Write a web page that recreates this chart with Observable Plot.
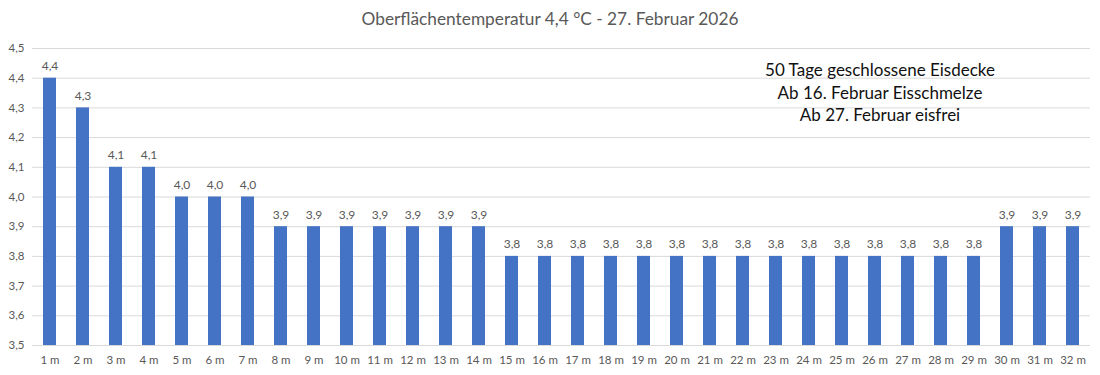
<!DOCTYPE html>
<html><head><meta charset="utf-8">
<script src="https://cdn.jsdelivr.net/npm/d3@7"></script>
<script src="https://cdn.jsdelivr.net/npm/@observablehq/plot@0.6"></script>
<style>
body{margin:0;background:#fff;font-family:Lato,"Open Sans",sans-serif;}
#wrap{position:relative;width:1100px;height:375px;}
#title{height:36px;line-height:38px;text-align:center;font-size:17.3px;color:#595959;}
#note{position:absolute;left:740px;width:280px;top:59px;text-align:center;font-size:17px;line-height:22.5px;color:#111;}
</style></head>
<body>
<div id="wrap">
<div id="title"></div>
<div id="chart"></div>
<div id="note"></div>
</div>
<script>
const title = "Oberflächentemperatur 4,4 °C - 27. Februar 2026";
const noteLines = ["50 Tage geschlossene Eisdecke", "Ab 16. Februar Eisschmelze", "Ab 27. Februar eisfrei"];
const depths = ["1 m","2 m","3 m","4 m","5 m","6 m","7 m","8 m","9 m","10 m","11 m","12 m","13 m","14 m","15 m","16 m","17 m","18 m","19 m","20 m","21 m","22 m","23 m","24 m","25 m","26 m","27 m","28 m","29 m","30 m","31 m","32 m"];
const temps = [4.4,4.3,4.1,4.1,4.0,4.0,4.0,3.9,3.9,3.9,3.9,3.9,3.9,3.9,3.8,3.8,3.8,3.8,3.8,3.8,3.8,3.8,3.8,3.8,3.8,3.8,3.8,3.8,3.8,3.9,3.9,3.9];
const yTicks = [3.5,3.6,3.7,3.8,3.9,4.0,4.1,4.2,4.3,4.4,4.5];

const data = depths.map((d,i)=>({depth:d, t:temps[i]}));
const fmt = v => v.toFixed(1).replace(".", ",");

document.getElementById("title").textContent = title;
document.getElementById("note").innerHTML = noteLines.map(s=>`<div>${s}</div>`).join("");

const chart = Plot.plot({
  width: 1100,
  height: 339,
  marginTop: 12,
  marginLeft: 32,
  marginRight: 10,
  marginBottom: 30,
  style: {fontFamily: "Lato, 'Open Sans', sans-serif", fontSize: "11.5px", color: "#595959", background: "#fff"},
  x: {domain: depths, paddingInner: 0.6, paddingOuter: 0, align: 0.5, label: null, tickSize: 0, tickPadding: 10},
  y: {domain: [3.5, 4.5], ticks: yTicks, tickFormat: fmt, label: null, tickSize: 0, tickPadding: 8},
  marks: [
    Plot.ruleY(yTicks, {stroke: "#d9d9d9", strokeWidth: 1}),
    Plot.barY(data, {x: "depth", y1: 3.5, y2: "t", fill: "#4472c4"}),
    Plot.text(data, {x: "depth", y: "t", text: d => fmt(d.t), dy: -12, fill: "#595959", fontSize: 12})
  ]
});
document.getElementById("chart").appendChild(chart);
</script>
</body></html>
